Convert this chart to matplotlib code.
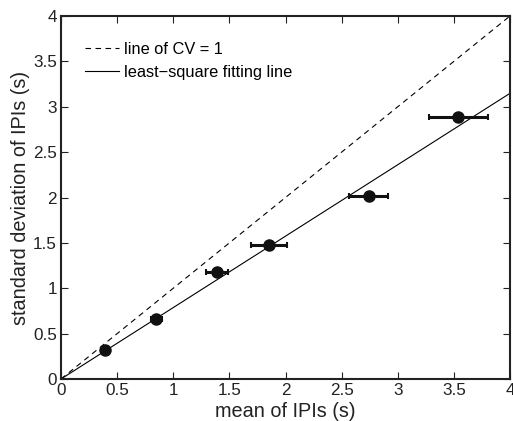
import numpy as np
import matplotlib
matplotlib.use('Agg')
import matplotlib.pyplot as plt

plt.rcParams['font.family'] = ['Liberation Sans', 'DejaVu Sans']

# mean IPI, its error, and standard deviation of IPI (s)
mean_ipi = [0.39, 0.85, 1.39, 1.85, 2.74, 3.54]
mean_err = [0.02, 0.05, 0.10, 0.16, 0.175, 0.26]
std_ipi = [0.32, 0.66, 1.18, 1.48, 2.02, 2.89]
fit_slope = 0.787

fig = plt.figure(figsize=(5.13, 4.21), dpi=100)
ax = fig.add_axes([61 / 513, 42 / 421, 449 / 513, 363 / 421])

xx = np.array([0, 4])
ax.plot(xx, xx, 'k--', lw=0.8, dashes=(5, 4), label='line of CV = 1')
ax.plot(xx, fit_slope * xx, 'k-', lw=0.8, label='least\u2212square fitting line')
ax.errorbar(mean_ipi, std_ipi, xerr=mean_err, fmt='o', color='#111111',
            ms=8, elinewidth=2.2, capsize=2.5, capthick=1.5)

ax.set_xlim(0, 4)
ax.set_ylim(0, 4)
ax.set_xticks(np.arange(0, 4.01, 0.5))
ax.set_yticks(np.arange(0, 4.01, 0.5))
ax.set_xticklabels(['0', '0.5', '1', '1.5', '2', '2.5', '3', '3.5', '4'])
ax.set_yticklabels(['0', '0.5', '1', '1.5', '2', '2.5', '3', '3.5', '4'])
ax.tick_params(direction='in', top=True, right=True, length=5, width=0.8,
               labelsize=12.3, pad=3, colors='#222222')
for s in ax.spines.values():
    s.set_linewidth(1.5)
    s.set_color('#222222')

ax.set_xlabel('mean of IPIs (s)', fontsize=14.3, labelpad=3, color='#222222')
ax.set_ylabel('standard deviation of IPIs (s)', fontsize=14.3, labelpad=2,
              color='#222222')

ax.legend(loc='upper left', bbox_to_anchor=(-0.005, 1.0), frameon=False,
          fontsize=11.8, handlelength=2.1, handletextpad=0.3, borderaxespad=1.2,
          labelspacing=0.45)

fig.savefig('out.png', dpi=100)
